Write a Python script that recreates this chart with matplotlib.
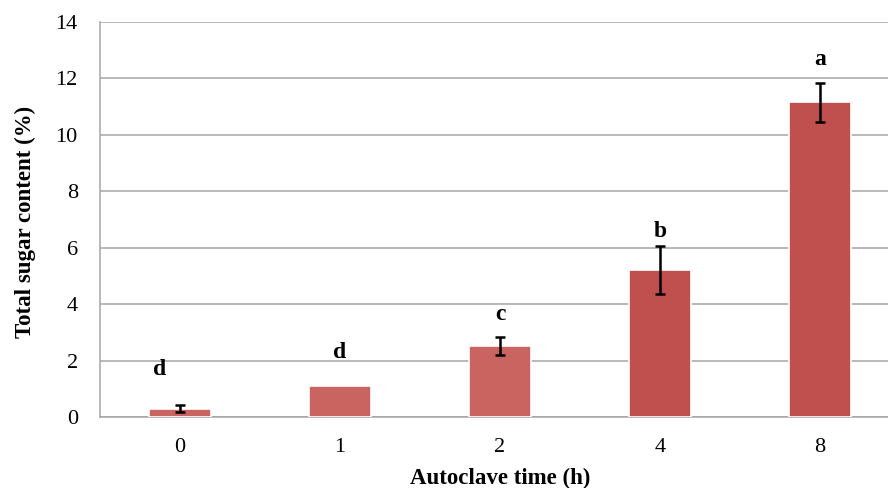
import numpy as np
import matplotlib.pyplot as plt

# data
times = ['0', '1', '2', '4', '8']
sugar = [0.30, 1.10, 2.52, 5.22, 11.15]
sd = [0.12, 0.0, 0.32, 0.85, 0.70]
letters = ['d', 'd', 'c', 'b', 'a']
letter_y = [1.67, 2.30, 3.65, 6.56, 12.66]
letter_dx = [-0.13, 0, 0, 0, 0]
colors = ['#CA6461', '#CA6461', '#CA6461', '#C0504D', '#C0504D']

plt.rcParams['font.family'] = ['Liberation Serif', 'DejaVu Serif']

fig = plt.figure(figsize=(8.88, 4.88), dpi=100)
ax = fig.add_axes([100/888, 71/488, 800/888, 395/488])

x = np.arange(len(times))
ax.bar(x, sugar, width=0.39, color=colors, edgecolor='white', linewidth=1.2, zorder=3)

# error bars only where there is a deviation
for i in range(len(times)):
    if sd[i] > 0:
        ax.errorbar(x[i], sugar[i], yerr=sd[i], fmt='none', ecolor='black',
                    elinewidth=1.8, capsize=3.8, capthick=1.8, zorder=4)

for i in range(len(times)):
    ax.text(x[i] + letter_dx[i], letter_y[i], letters[i], ha='center', va='center',
            fontsize=17, fontweight='bold', zorder=4)

ax.set_xlim(-0.5, 4.5)
ax.set_ylim(0, 14)
ax.set_yticks(np.arange(0, 15, 2))
ax.set_xticks(x)
ax.set_xticklabels(times)
ax.yaxis.grid(True, color='#A6A6A6', linewidth=1.1, zorder=0)
ax.set_axisbelow(True)
ax.tick_params(axis='both', length=0, labelsize=16, pad=16)
ax.tick_params(axis='x', pad=15)

for s in ['top', 'right']:
    ax.spines[s].set_visible(False)
ax.spines['left'].set_color('#A6A6A6')
ax.spines['bottom'].set_color('#A6A6A6')
ax.spines['left'].set_linewidth(1.1)
ax.spines['bottom'].set_linewidth(1.1)

fig.text(25/888, 266/488, 'Total sugar content (%)', rotation=90, ha='center', va='center',
         fontsize=16.5, fontweight='bold')
fig.text(500/888, 10/488, 'Autoclave time (h)', ha='center', va='center',
         fontsize=16.5, fontweight='bold')

fig.savefig('out.png', dpi=100)
